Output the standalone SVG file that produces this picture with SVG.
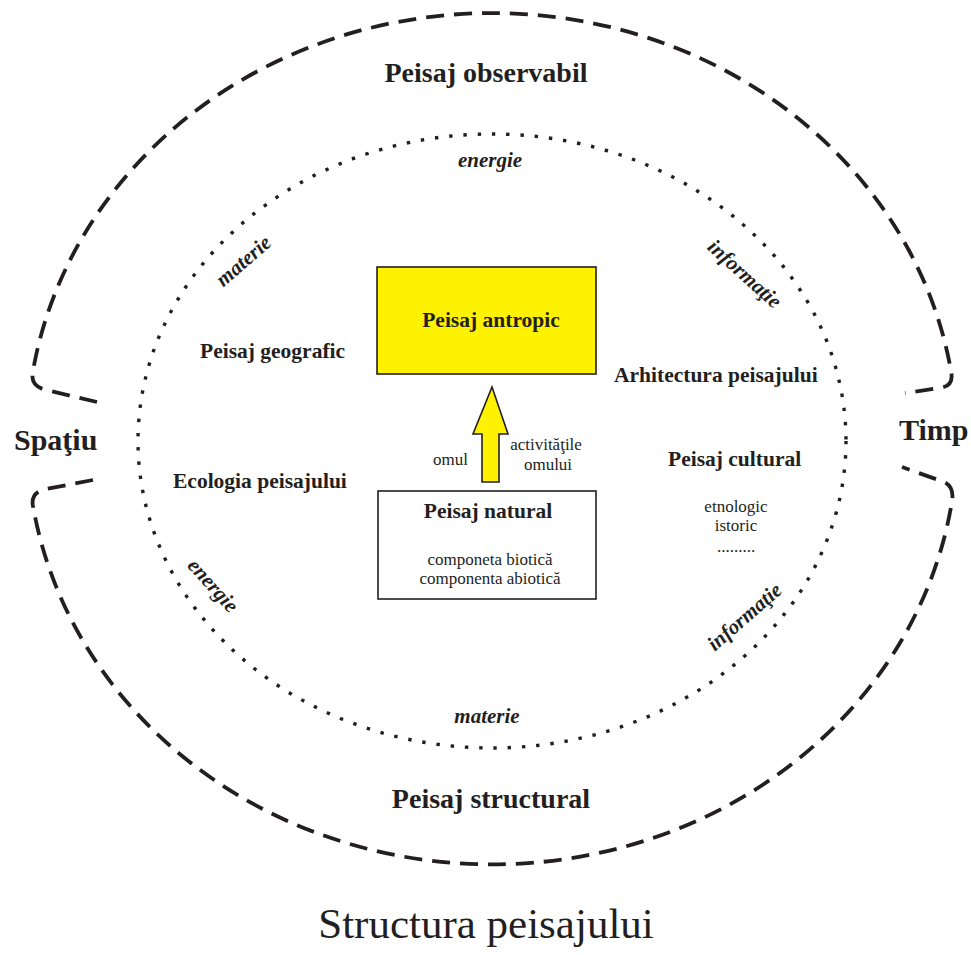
<svg xmlns="http://www.w3.org/2000/svg" width="971" height="955" viewBox="0 0 971 955">
<style>
text{font-family:"Liberation Serif","Times New Roman",serif;fill:#231f20}
.b{font-weight:bold;font-size:21.5px}
.big{font-weight:bold;font-size:28px}
.side{font-weight:bold;font-size:30px}
.it{font-weight:bold;font-style:italic;font-size:21px}
.r{font-size:17px}
.m{text-anchor:middle}
.outer{fill:none;stroke:#231f20;stroke-width:3.8;stroke-dasharray:18 10}
.inner{fill:none;stroke:#231f20;stroke-width:3.4;stroke-dasharray:3.4 10.9}
.box{stroke:#231f20;stroke-width:1.6}
</style>
<rect width="971" height="955" fill="#ffffff"/>
<g id="rings">
<path class="outer" d="M97,402 L46,390 Q30,386 32.8,372 A465 426 0 0 1 951.2,372 Q954,386 940,388 L905,393"/>
<path class="outer" d="M93,480 L46,489 Q31,492 32.8,505 A465 426 0 0 0 951.7,503 Q955,487 944,482 L902,467"/>
<ellipse class="inner" cx="492" cy="441" rx="354" ry="307"/>
</g>
<g id="labels">
<text class="big m" x="486" y="82">Peisaj observabil</text>
<text class="big m" x="491" y="808">Peisaj structural</text>
<text class="side" x="14" y="450">Spaţiu</text>
<text class="side" x="899" y="440">Timp</text>
<text class="it m" x="490" y="167">energie</text>
<text class="it m" x="487" y="723">materie</text>
<text class="it m" transform="translate(248,266) rotate(-41)">materie</text>
<text class="it m" transform="translate(740,279) rotate(42)">informaţie</text>
<text class="it m" transform="translate(208,590) rotate(48)">energie</text>
<text class="it m" transform="translate(749,622) rotate(-41)">informaţie</text>
<text class="b" x="200" y="358">Peisaj geografic</text>
<text class="b" x="173" y="488">Ecologia peisajului</text>
<text class="b" x="614" y="382">Arhitectura peisajului</text>
<text class="b" x="668" y="466">Peisaj cultural</text>
<text class="r m" x="736" y="512">etnologic</text>
<text class="r m" x="736" y="531">istoric</text>
<text class="r m" x="736" y="552">.........</text>
<text class="m" x="486" y="938" style="font-size:43px">Structura peisajului</text>
</g>
<g id="node-antropic">
<rect class="box" x="377" y="267" width="219" height="107" fill="#fff200"/>
<text class="b m" x="491" y="327">Peisaj antropic</text>
</g>
<g id="node-natural">
<rect class="box" x="378" y="491" width="218" height="108" fill="#ffffff"/>
<text class="b m" x="488" y="518">Peisaj natural</text>
<text class="r m" x="490" y="565">componeta biotică</text>
<text class="r m" x="490" y="584">componenta abiotică</text>
</g>
<g id="connectors">
<polygon class="box" points="492,387 508,434 499,434 499,482 482,482 482,434 473,434" fill="#fff200" stroke-width="1.2"/>
<text class="r" x="433" y="465">omul</text>
<text class="r m" x="546" y="450">activităţile</text>
<text class="r m" x="548" y="470">omului</text>
</g>
</svg>
